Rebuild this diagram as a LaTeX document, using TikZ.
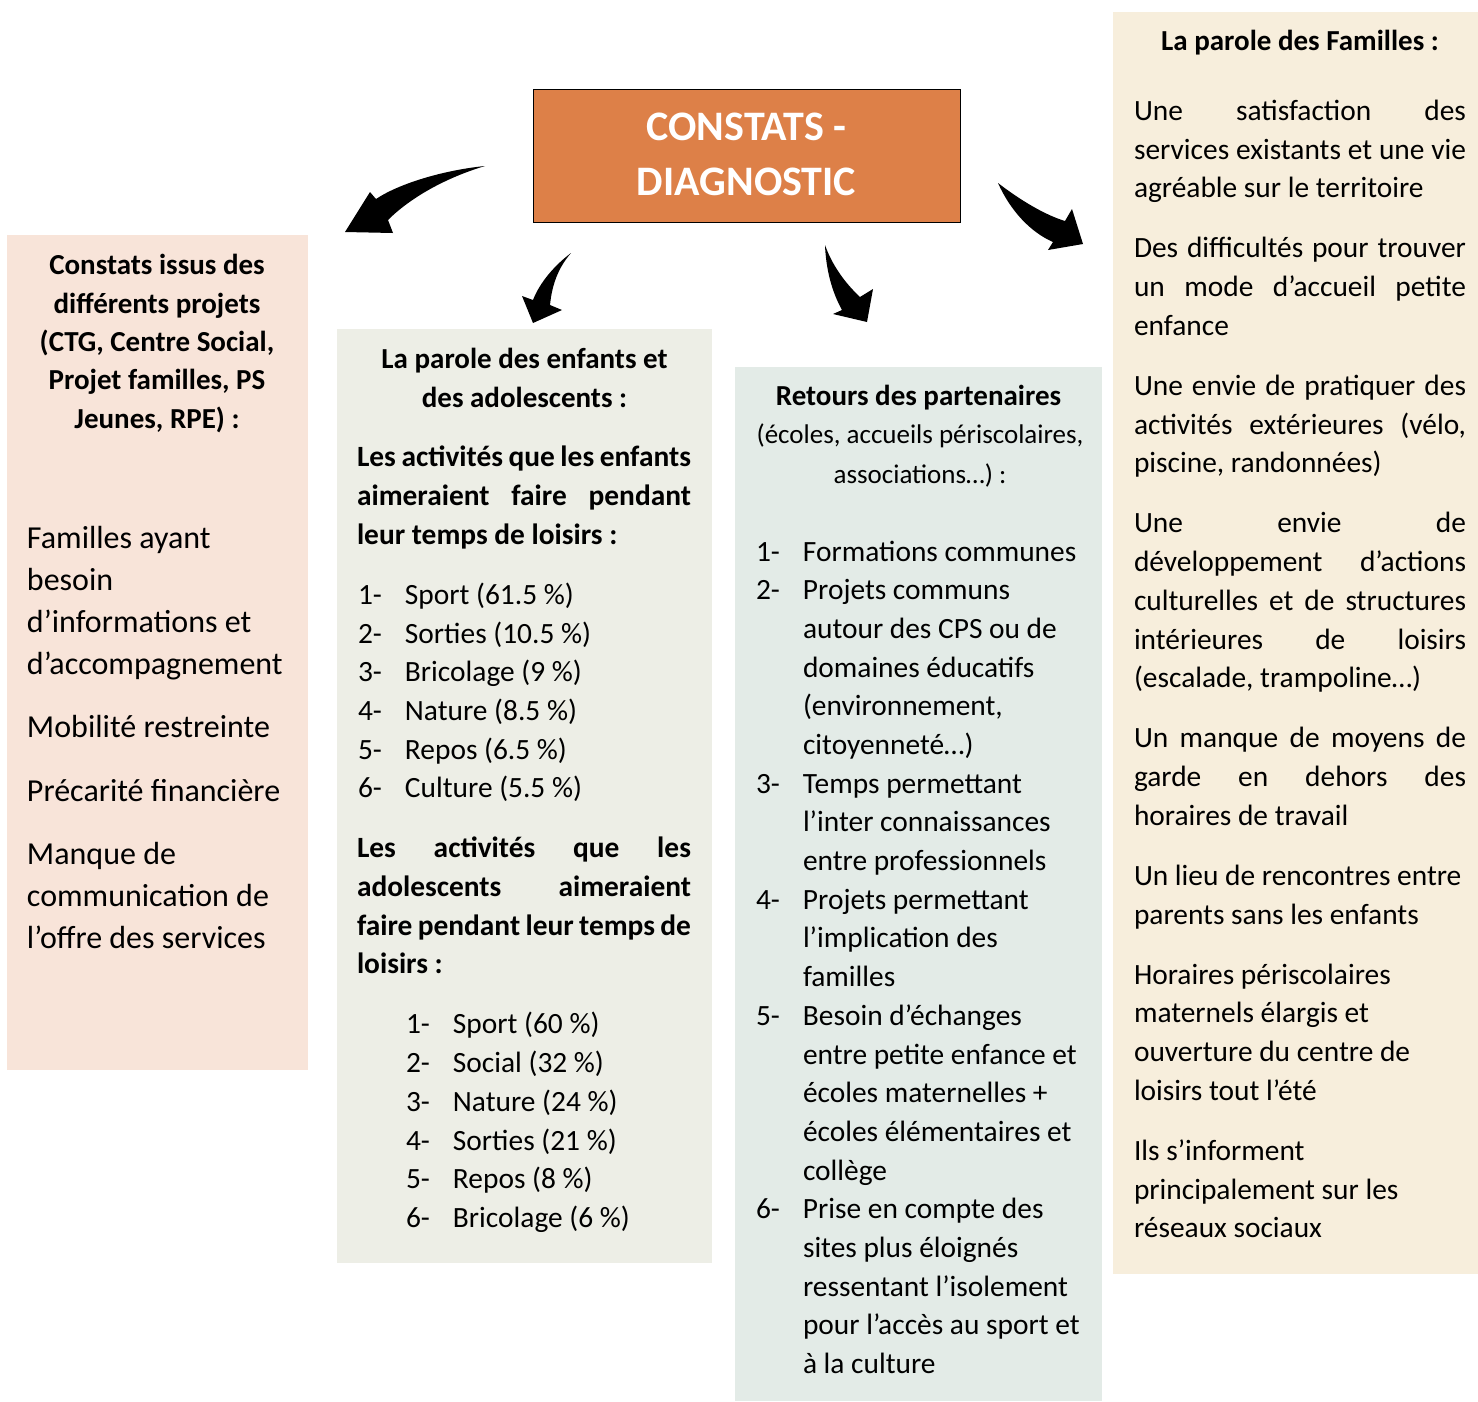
\documentclass[tikz,border=0pt]{standalone}
\usepackage{fontspec}
\setmainfont{Carlito}
\definecolor{pinkbox}{HTML}{F8E4D9}
\definecolor{greenbox}{HTML}{EDEEE6}
\definecolor{bluebox}{HTML}{E3EBE7}
\definecolor{creambox}{HTML}{F7EEDC}
\definecolor{titleorange}{HTML}{DD8048}
\newcommand\jl[2]{\makebox[#1pt][s]{#2}}
\newcommand\nm[1]{\makebox[47pt][l]{#1}}
\newcommand\rs{\spaceskip=0pt\xspaceskip=0pt\hyphenpenalty=10000\exhyphenpenalty=10000\relax}
\tikzset{
  panel/.style={inner sep=0pt, outer sep=0pt, anchor=north west, draw=none},
  bodytext/.style={inner sep=0pt, outer sep=0pt, anchor=north west, align=left, font=\fontsize{29.4}{38.7}\selectfont},
  hdr/.style={inner sep=0pt, outer sep=0pt, anchor=north, align=center, font=\fontsize{29}{38.3}\selectfont\bfseries},
  bigarrow/.style={fill=black, draw=none},
}
\begin{document}
\begin{tikzpicture}[x=1pt,y=-1pt]
\useasboundingbox (0,0) rectangle (1478,1401);
\fill[white] (0,0) rectangle (1478,1401);
% panels
\node[panel, fill=pinkbox, minimum width=301, minimum height=835] (boxA) at (7,235) {};
\node[panel, fill=greenbox, minimum width=375, minimum height=934] (boxB) at (337,329) {};
\node[panel, fill=bluebox, minimum width=367, minimum height=1034] (boxC) at (735,367) {};
\node[panel, fill=creambox, minimum width=365, minimum height=1262] (boxD) at (1113,12) {};
% title
\node[panel, fill=titleorange, draw=black, line width=0.8pt, minimum width=427, minimum height=133] (title) at (533,89) {};
\node[inner sep=0pt, anchor=north, align=center, text=white, font=\fontsize{42}{55}\selectfont\bfseries] (titletext) at (746.5,101.5) {\rs\strut CONSTATS -\\DIAGNOSTIC};
% left panel
\node[hdr] (hA) at (157,248) {\rs\strut Constats issus des\\différents projets\\(CTG, Centre Social,\\Projet familles, PS\\Jeunes, RPE) :};
\node[bodytext, font=\fontsize{32}{42}\selectfont, text width=285pt] (tA) at (27,518.6) {\rs\strut Familles ayant\\besoin\\d’informations et\\d’accompagnement\\[21.5pt]Mobilité restreinte\\[21.5pt]Précarité financière\\[21.5pt]Manque de\\communication de\\l’offre des services};
% middle-left panel
\node[hdr] (hB) at (524.5,342) {\rs\strut La parole des enfants et\\des adolescents :};
\node[bodytext, text width=340pt] (tB) at (357,439.9) {\rs\strut\textbf{\jl{334}{Les activités que les enfants}}\\
\textbf{\jl{334}{aimeraient faire pendant}}\\
\textbf{leur temps de loisirs :}\\[21.3pt]
\hspace*{1pt}\nm{1-}Sport (61.5 \%)\\
\hspace*{1pt}\nm{2-}Sorties (10.5 \%)\\
\hspace*{1pt}\nm{3-}Bricolage (9 \%)\\
\hspace*{1pt}\nm{4-}Nature (8.5 \%)\\
\hspace*{1pt}\nm{5-}Repos (6.5 \%)\\
\hspace*{1pt}\nm{6-}Culture (5.5 \%)\\[21.3pt]
\textbf{\jl{334}{Les activités que les}}\\
\textbf{\jl{334}{adolescents aimeraient}}\\
\textbf{\jl{334}{faire pendant leur temps de}}\\
\textbf{loisirs :}\\[21.3pt]
\hspace*{49pt}\nm{1-}Sport (60 \%)\\
\hspace*{49pt}\nm{2-}Social (32 \%)\\
\hspace*{49pt}\nm{3-}Nature (24 \%)\\
\hspace*{49pt}\nm{4-}Sorties (21 \%)\\
\hspace*{49pt}\nm{5-}Repos (8 \%)\\
\hspace*{49pt}\nm{6-}Bricolage (6 \%)};
% middle-right panel
\node[inner sep=0pt, anchor=base, font=\fontsize{29}{38.7}\selectfont\bfseries] (hC1) at (918.5,405) {Retours des partenaires};
\node[inner sep=0pt, anchor=base, font=\fontsize{27}{36}\selectfont] (hC2) at (920,443) {(écoles, accueils périscolaires,};
\node[inner sep=0pt, anchor=base, font=\fontsize{27}{36}\selectfont] (hC3) at (920,483) {associations…) :};
\node[bodytext, text width=345pt] (tC) at (756,533.9) {\rs\strut\nm{1-}Formations communes\\
\nm{2-}Projets communs\\
\hspace*{47pt}autour des CPS ou de\\
\hspace*{47pt}domaines éducatifs\\
\hspace*{47pt}(environnement,\\
\hspace*{47pt}citoyenneté…)\\
\nm{3-}Temps permettant\\
\hspace*{47pt}l’inter connaissances\\
\hspace*{47pt}entre professionnels\\
\nm{4-}Projets permettant\\
\hspace*{47pt}l’implication des\\
\hspace*{47pt}familles\\
\nm{5-}Besoin d’échanges\\
\hspace*{47pt}entre petite enfance et\\
\hspace*{47pt}écoles maternelles +\\
\hspace*{47pt}écoles élémentaires et\\
\hspace*{47pt}collège\\
\nm{6-}Prise en compte des\\
\hspace*{47pt}sites plus éloignés\\
\hspace*{47pt}ressentant l’isolement\\
\hspace*{47pt}pour l’accès au sport et\\
\hspace*{47pt}à la culture};
% right panel
\node[inner sep=0pt, anchor=base, font=\fontsize{29}{38.7}\selectfont\bfseries] (hD) at (1300,50) {La parole des Familles :};
\node[bodytext, text width=340pt] (tD) at (1134,93.4) {\rs\strut\jl{332}{Une satisfaction des}\\
\jl{332}{services existants et une vie}\\
agréable sur le territoire\\[21.4pt]
\jl{332}{Des difficultés pour trouver}\\
\jl{332}{un mode d’accueil petite}\\
enfance\\[21.4pt]
\jl{332}{Une envie de pratiquer des}\\
\jl{332}{activités extérieures (vélo,}\\
piscine, randonnées)\\[21.4pt]
\jl{332}{Une envie de}\\
\jl{332}{développement d’actions}\\
\jl{332}{culturelles et de structures}\\
\jl{332}{intérieures de loisirs}\\
(escalade, trampoline…)\\[21.4pt]
\jl{332}{Un manque de moyens de}\\
\jl{332}{garde en dehors des}\\
horaires de travail\\[21.4pt]
Un lieu de rencontres entre\\
parents sans les enfants\\[21.4pt]
Horaires périscolaires\\
maternels élargis et\\
ouverture du centre de\\
loisirs tout l’été\\[21.4pt]
Ils s’informent\\
principalement sur les\\
réseaux sociaux};
% arrows
\fill[bigarrow] (485,166) .. controls (445,170) and (400,183) .. (376,199)
  -- (370,192) -- (345,232) -- (393,233) -- (388,220)
  .. controls (410,198) and (445,178) .. (485,166) -- cycle;
\fill[bigarrow] (571,253) .. controls (555,265) and (540,282) .. (533,300)
  -- (522,296) -- (533,323) -- (562,310) -- (550,305)
  .. controls (552,285) and (558,268) .. (571,253) -- cycle;
\fill[bigarrow] (825,245) .. controls (826,270) and (832,292) .. (842,310)
  -- (833,314) -- (867,322) -- (873,289) -- (860,297)
  .. controls (845,283) and (832,265) .. (825,245) -- cycle;
\fill[bigarrow] (998,183) .. controls (1020,200) and (1045,215) .. (1065,221)
  -- (1072,209) -- (1083,244) -- (1048,250) -- (1053,242)
  .. controls (1030,232) and (1010,210) .. (998,183) -- cycle;
\end{tikzpicture}
\end{document}
